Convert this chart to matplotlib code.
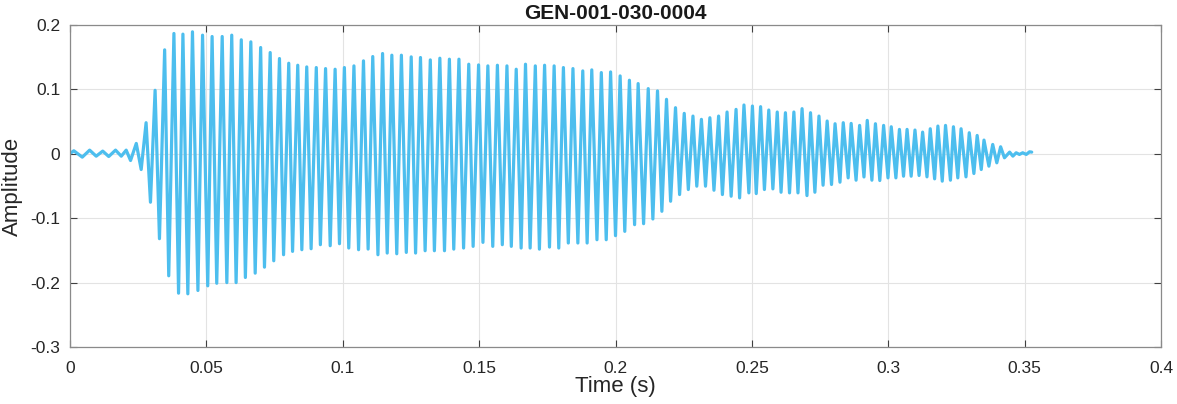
import numpy as np
import matplotlib
matplotlib.use("Agg")
import matplotlib.pyplot as plt
from matplotlib.ticker import FuncFormatter

plt.rcParams['font.family'] = ['Liberation Sans', 'DejaVu Sans']

title = "GEN-001-030-0004"
x_label = "Time (s)"
y_label = "Amplitude"
x_ticks = [0, 0.05, 0.1, 0.15, 0.2, 0.25, 0.3, 0.35, 0.4]
y_ticks = [-0.3, -0.2, -0.1, 0, 0.1, 0.2]

# Waveform extrema (positive peaks): time (s), amplitude
peak_t = [0.0004, 0.0014, 0.0072, 0.0120, 0.0167, 0.0206, 0.0243, 0.0279, 0.0312, 0.0347, 0.0381,
          0.0414, 0.0449, 0.0486, 0.0521, 0.0558, 0.0593, 0.0628, 0.0663, 0.0699, 0.0734, 0.0768, 0.0802,
          0.0835, 0.0868, 0.0903, 0.0937, 0.0972, 0.1006, 0.1041, 0.1076, 0.1110, 0.1146, 0.1180, 0.1215,
          0.1251, 0.1285, 0.1321, 0.1356, 0.1391, 0.1426, 0.1462, 0.1498, 0.1532, 0.1567, 0.1602, 0.1636,
          0.1670, 0.1706, 0.1740, 0.1775, 0.1809, 0.1844, 0.1880, 0.1913, 0.1948, 0.1982, 0.2017, 0.2051, 0.2083,
          0.2120, 0.2154, 0.2187, 0.2220, 0.2252, 0.2284, 0.2315, 0.2346, 0.2378, 0.2409, 0.2442, 0.2471, 0.2502,
          0.2532, 0.2562, 0.2593, 0.2623, 0.2654, 0.2684, 0.2715, 0.2746, 0.2776, 0.2805, 0.2835, 0.2864, 0.2895, 0.2923,
          0.2953, 0.2983, 0.3011, 0.3041, 0.3069, 0.3098, 0.3126, 0.3154, 0.3182, 0.3210, 0.3239, 0.3267, 0.3297, 0.3326, 0.3351,
          0.3383, 0.3412, 0.3445, 0.3469, 0.3493, 0.3518, 0.3526]
peak_a = [0.0016, 0.0047, 0.0057, 0.0042, 0.0057, 0.0057, 0.0161, 0.0483, 0.0986, 0.1614, 0.1868,
          0.1858, 0.1894, 0.1842, 0.1821, 0.1821, 0.1842, 0.1770, 0.1738, 0.1650, 0.1572, 0.1479, 0.1406,
          0.1375, 0.1349, 0.1339, 0.1323, 0.1313, 0.1339, 0.1365, 0.1443, 0.1510, 0.1557, 0.1531, 0.1531,
          0.1505, 0.1495, 0.1458, 0.1484, 0.1469, 0.1469, 0.1391, 0.1380, 0.1365, 0.1375, 0.1365, 0.1313,
          0.1391, 0.1365, 0.1375, 0.1365, 0.1339, 0.1323, 0.1287, 0.1303, 0.1261, 0.1271, 0.1209, 0.1142, 0.1090,
          0.1012, 0.0976, 0.0846, 0.0716, 0.0628, 0.0586, 0.0535, 0.0560, 0.0586, 0.0649, 0.0690, 0.0758, 0.0742,
          0.0732, 0.0680, 0.0649, 0.0638, 0.0649, 0.0701, 0.0638, 0.0586, 0.0509, 0.0467, 0.0483, 0.0472, 0.0441, 0.0519,
          0.0467, 0.0441, 0.0420, 0.0379, 0.0379, 0.0369, 0.0337, 0.0389, 0.0431, 0.0441, 0.0420, 0.0389, 0.0327, 0.0285, 0.0213,
          0.0145, 0.0109, 0.0026, 0.0016, 0.0016, 0.0031, 0.0026]

# Waveform extrema (troughs): time (s), amplitude
trough_t = [0.0045, 0.0096, 0.0142, 0.0188, 0.0222, 0.0261, 0.0295, 0.0328, 0.0362,
            0.0398, 0.0432, 0.0469, 0.0505, 0.0538, 0.0575, 0.0609, 0.0643, 0.0679, 0.0713, 0.0747, 0.0783, 0.0816,
            0.0850, 0.0884, 0.0918, 0.0954, 0.0988, 0.1022, 0.1058, 0.1093, 0.1129, 0.1163, 0.1198, 0.1233,
            0.1267, 0.1302, 0.1336, 0.1373, 0.1407, 0.1443, 0.1478, 0.1514, 0.1550, 0.1585, 0.1618, 0.1654,
            0.1687, 0.1721, 0.1758, 0.1792, 0.1827, 0.1862, 0.1896, 0.1932, 0.1966, 0.2000, 0.2034, 0.2070,
            0.2103, 0.2137, 0.2170, 0.2202, 0.2235, 0.2267, 0.2298, 0.2330, 0.2361, 0.2392, 0.2424, 0.2455, 0.2489,
            0.2516, 0.2546, 0.2577, 0.2607, 0.2638, 0.2669, 0.2702, 0.2731, 0.2761, 0.2792, 0.2823, 0.2853, 0.2882, 0.2911,
            0.2940, 0.2969, 0.2999, 0.3028, 0.3056, 0.3084, 0.3113, 0.3142, 0.3170, 0.3198, 0.3228, 0.3255, 0.3285, 0.3314, 0.3341,
            0.3369, 0.3398, 0.3426, 0.3457, 0.3481, 0.3506]
trough_a = [-0.0052, -0.0037, -0.0042, -0.0037, -0.0104, -0.0244, -0.0752, -0.1318, -0.1894,
            -0.2164, -0.2174, -0.2122, -0.2050, -0.2010, -0.2000, -0.2000, -0.1920, -0.1853, -0.1760, -0.1661, -0.1567, -0.1515,
            -0.1489, -0.1474, -0.1411, -0.1427, -0.1396, -0.1463, -0.1489, -0.1479, -0.1567, -0.1541, -0.1552, -0.1531,
            -0.1541, -0.1505, -0.1505, -0.1505, -0.1480, -0.1463, -0.1437, -0.1375, -0.1437, -0.1411, -0.1437, -0.1463,
            -0.1463, -0.1480, -0.1448, -0.1463, -0.1385, -0.1385, -0.1385, -0.1334, -0.1334, -0.1271, -0.1204, -0.1100,
            -0.1085, -0.1012, -0.0893, -0.0737, -0.0633, -0.0555, -0.0503, -0.0503, -0.0566, -0.0633, -0.0659, -0.0685, -0.0607,
            -0.0618, -0.0555, -0.0545, -0.0597, -0.0607, -0.0607, -0.0649, -0.0597, -0.0488, -0.0477, -0.0441, -0.0374, -0.0410, -0.0360,
            -0.0410, -0.0415, -0.0374, -0.0374, -0.0348, -0.0348, -0.0337, -0.0358, -0.0389, -0.0425, -0.0410, -0.0374, -0.0358, -0.0306, -0.0244,
            -0.0192, -0.0140, -0.0062, -0.0036, -0.0010, -0.0010]

t_all = np.array(peak_t + trough_t)
a_all = np.array(peak_a + trough_a)
order = np.argsort(t_all)
t_all = t_all[order]
a_all = a_all[order]

fig = plt.figure(figsize=(11.77, 4.04), dpi=100)
ax = fig.add_axes([70 / 1177, 1 - 347 / 404, 1091 / 1177, 322 / 404])

ax.plot(t_all, a_all, color='#4DBEEE', linewidth=2.3,
        solid_joinstyle='round', solid_capstyle='round')

ax.set_xlim(0, 0.4)
ax.set_ylim(-0.3, 0.2)
ax.set_xticks(x_ticks)
ax.set_yticks(y_ticks)
fmt = FuncFormatter(lambda v, p: ('%g' % round(v, 4)))
ax.xaxis.set_major_formatter(fmt)
ax.yaxis.set_major_formatter(fmt)

ax.grid(True, color='#e3e3e3', linewidth=0.8)
ax.set_axisbelow(True)
for s in ax.spines.values():
    s.set_color('#8a8a8a')
    s.set_linewidth(0.9)
ax.tick_params(direction='in', top=True, right=True, length=5, width=0.8,
               color='#404040', labelcolor='#262626', labelsize=12.5)
ax.tick_params(axis='x', pad=10)
ax.tick_params(axis='y', pad=7)

ax.set_xlabel(x_label, fontsize=16, color='#262626', labelpad=0)
ax.set_ylabel(y_label, fontsize=16, color='#262626', labelpad=5)
ax.set_title(title, fontsize=15, fontweight='bold', color='#1a1a1a', pad=4)

fig.savefig('out.png', dpi=100)
